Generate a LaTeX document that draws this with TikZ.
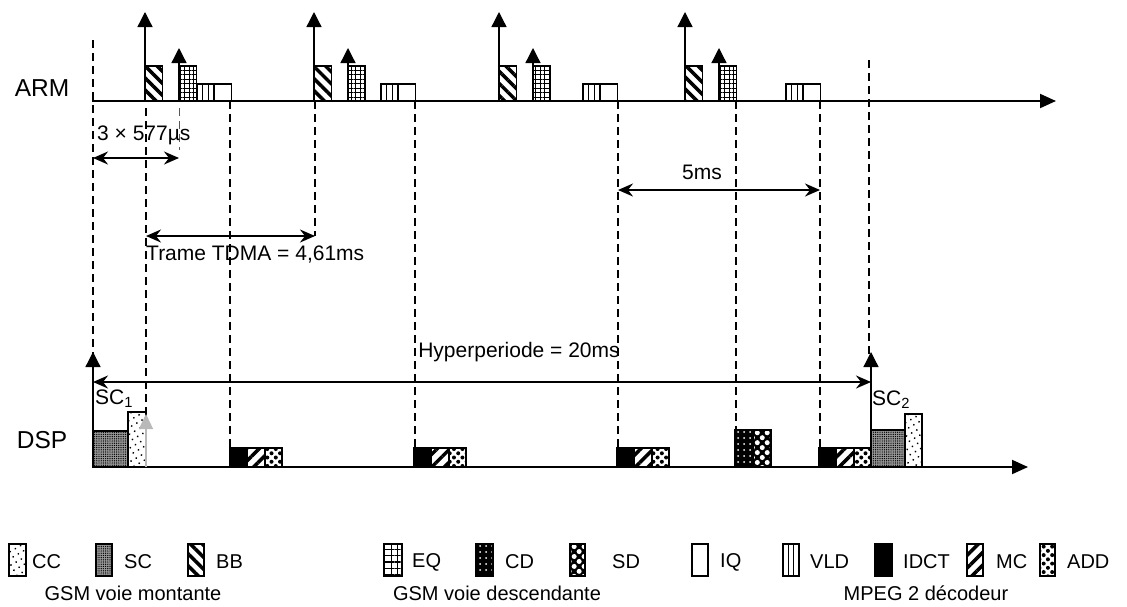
\documentclass[tikz,border=0pt]{standalone}
\usepackage{fontspec}
\setmainfont{Liberation Sans}
\usetikzlibrary{arrows.meta,patterns,patterns.meta}
\tikzset{
  axisline/.style={line width=2pt,-{Triangle[length=16pt,width=14pt]}},
  tickarrow/.style={line width=1.3pt,-{Triangle[length=15pt,width=15pt]}},
  dimarrow/.style={line width=2pt,{Stealth[length=15pt,width=13pt,inset=5pt]}-{Stealth[length=15pt,width=13pt,inset=5pt]}},
  dsh/.style={line width=1.8pt,dash pattern=on 8pt off 5pt},
  bx/.style={draw,line width=1.8pt},
  bbp/.style={bx,pattern={Lines[angle=-45,distance=8.5pt,line width=3.5pt]}},
  eqp/.style={bx,pattern={Hatch[angle=0,distance=4.5pt,line width=1pt]}},
  eqlp/.style={bx,pattern={Hatch[angle=0,distance=6.3pt,line width=1.2pt,xshift=0.5pt]}},
  ccp/.style={bx,pattern={Dots[radius=1pt,distance=6pt,angle=30]}},
  scp/.style={bx,preaction={fill=black!40},pattern={Dots[radius=0.7pt,distance=2.2pt]}},
  idctp/.style={bx,fill=black},
  mcp/.style={bx,pattern={Lines[angle=45,distance=9pt,line width=3.5pt]}},
  addp/.style={bx,pattern={Dots[radius=2pt,distance=6pt,angle=45]}},
  cdp/.style={bx,preaction={fill=black},pattern={Dots[radius=1pt,distance=6pt]},pattern color=white},
  sdp/.style={bx,preaction={fill=black},pattern={Dots[radius=2.5pt,distance=7pt,angle=45]},pattern color=white},
  iqp/.style={bx,fill=white},
  lbl/.style={font=\fontsize{21}{25}\selectfont,inner sep=0pt},
  big/.style={font=\fontsize{24.5}{28}\selectfont,inner sep=0pt},
  leg/.style={font=\fontsize{20}{24}\selectfont,inner sep=0pt,anchor=west},
}
\begin{document}
\begin{tikzpicture}[x=1pt,y=-1pt]
\useasboundingbox (0,0) rectangle (1127,606);
% --- dashed guide lines ---
\draw[dsh] (93,40) -- (93,355);
\draw[dsh] (146,108) -- (146,412);
\draw[line width=1pt,dash pattern=on 8pt off 5pt,blue!40!gray] (179,108) -- (179,150);
\draw[dsh] (230,101) -- (230,448);
\draw[dsh] (315,101) -- (315,236);
\draw[dsh] (415,101) -- (415,448);
\draw[dsh] (618,101) -- (618,448);
\draw[dsh] (736,101) -- (736,431);
\draw[dsh] (820,101) -- (820,448);
\draw[dsh] (869,60) -- (869,355);
% --- ARM tasks ---
\foreach \b/\e/\v in {145/179/197, 314/348/381, 499/533/583, 685/719/786}{
  \draw[bbp] (\b,66) rectangle ({\b+17.5},101);
  \draw[eqp] (\e,66) rectangle ({\e+17.5},101);
  \draw[bx,fill=white] (\v,84) rectangle ({\v+17},101);
  \draw[line width=1pt] ({\v+5.7},84) -- ({\v+5.7},101) ({\v+11.3},84) -- ({\v+11.3},101);
  \draw[iqp] ({\v+17},84) rectangle ({\v+34.5},101);
  \draw[tickarrow] (\b,101) -- (\b,12);
  \draw[tickarrow] (\e,66) -- (\e,48);
}
% --- DSP tasks ---
\draw[scp] (93,431) rectangle (128,467);
\draw[ccp] (128,412) rectangle (146,467);
\foreach \s in {230,414,617,819}{
  \draw[idctp] (\s,448) rectangle ({\s+17.5},467);
  \draw[mcp] ({\s+17.5},448) rectangle ({\s+35},467);
  \draw[addp] ({\s+35},448) rectangle ({\s+52},467);
}
\draw[cdp] (735,430) rectangle (753,467);
\draw[sdp] (753,430) rectangle (771,467);
\draw[scp] (871,430) rectangle (905,467);
\draw[ccp] (905,414) rectangle (922,467);
% --- axes ---
\coordinate (armS) at (92,101);
\coordinate (armE) at (1056,101);
\coordinate (dspS) at (92,467);
\coordinate (dspE) at (1028,467);
\draw[axisline] (armS) -- (armE);
\draw[axisline] (dspS) -- (dspE);
\node[big] (arm) at (42,88) {ARM};
\node[big] (dsp) at (42,440) {DSP};
% --- DSP start arrows ---
\coordinate (sc1b) at (93,467);
\coordinate (sc1t) at (93,352);
\coordinate (sc2b) at (871,467);
\coordinate (sc2t) at (871,352);
\draw[tickarrow] (sc1b) -- (sc1t);
\draw[tickarrow] (sc2b) -- (sc2t);
\coordinate (ccb) at (146,467);
\coordinate (cct) at (146,414);
\draw[tickarrow,gray!55,-{Triangle[length=15pt,width=14pt]}] (ccb) -- (cct);
\node[lbl,anchor=west] (sc1) at (95,399) {SC\textsubscript{1}};
\node[lbl,anchor=west] (sc2) at (872,400) {SC\textsubscript{2}};
% --- dimension arrows ---
\coordinate (d1a) at (93,158); \coordinate (d1b) at (179,158);
\draw[dimarrow] (d1a) -- (d1b);
\node[lbl,anchor=west] (t1) at (97,135) {3 × 577µs};
\coordinate (d2a) at (146,236); \coordinate (d2b) at (315,236);
\draw[dimarrow] (d2a) -- (d2b);
\node[lbl,anchor=west] (t2) at (146,255) {Trame TDMA = 4,61ms};
\coordinate (d3a) at (618,190); \coordinate (d3b) at (820,190);
\draw[dimarrow] (d3a) -- (d3b);
\node[lbl] (t3) at (702,172) {5ms};
\coordinate (d4a) at (93,382); \coordinate (d4b) at (871,382);
\draw[dimarrow] (d4a) -- (d4b);
\node[lbl] (t4) at (519,352) {Hyperperiode = 20ms};
% --- legend ---
\draw[ccp] (9,544) rectangle (26,576);   \node[leg] (lcc) at (32,562) {CC};
\draw[scp] (96,544) rectangle (112,576); \node[leg] (lsc) at (124,562) {SC};
\draw[bbp] (188,544) rectangle (204,576); \node[leg] (lbb) at (216,562) {BB};
\draw[eqlp] (384,544) rectangle (402,576); \node[leg] (leq) at (412,562) {EQ};
\draw[cdp] (476,544) rectangle (493,576); \node[leg] (lcd) at (505,562) {CD};
\draw[sdp] (570,544) rectangle (585,576); \node[leg] (lsd) at (612,562) {SD};
\draw[iqp] (692,544) rectangle (708,576); \node[leg] (liq) at (720,562) {IQ};
\draw[bx,fill=white] (783,544) rectangle (799,576);
\draw[line width=1pt] (788.5,544) -- (788.5,576) (793.5,544) -- (793.5,576);
\node[leg] (lvld) at (810,562) {VLD};
\draw[idctp] (875,544) rectangle (892,576); \node[leg] (lidct) at (903,562) {IDCT};
\draw[mcp] (967,544) rectangle (983,576); \node[leg] (lmc) at (996,562) {MC};
\draw[addp] (1040,544) rectangle (1055,576); \node[leg] (ladd) at (1067,562) {ADD};
\node[leg,anchor=center] (g1) at (133,593) {GSM voie montante};
\node[leg,anchor=center] (g2) at (497,593) {GSM voie descendante};
\node[leg,anchor=center] (g3) at (926,593) {MPEG 2 décodeur};
\end{tikzpicture}
\end{document}
